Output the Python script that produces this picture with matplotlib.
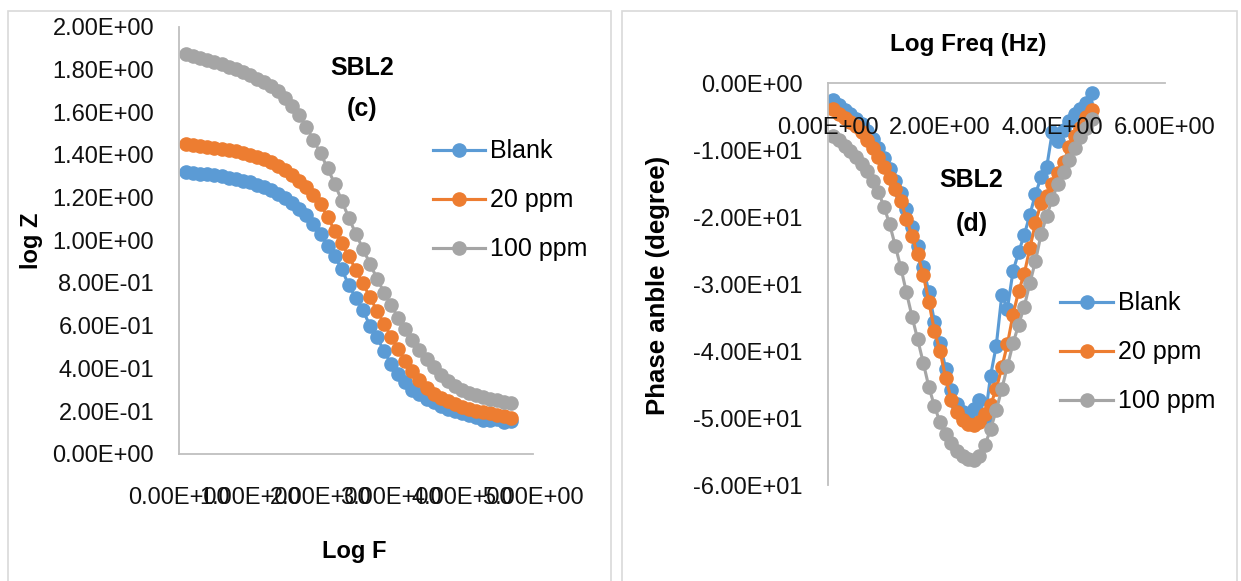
import matplotlib
matplotlib.use('Agg')
import matplotlib.pyplot as plt
from matplotlib.patches import Rectangle
from matplotlib.ticker import FuncFormatter, MultipleLocator

plt.rcParams['font.family'] = ['Liberation Sans', 'DejaVu Sans']

# log of frequency (Hz), shared by both plots
log_f = [0.1, 0.2, 0.3, 0.4, 0.5, 0.6, 0.7, 0.8, 0.9, 1.0,
         1.1, 1.2, 1.3, 1.4, 1.5, 1.6, 1.7, 1.8, 1.9, 2.0,
         2.1, 2.2, 2.3, 2.4, 2.5, 2.6, 2.7, 2.8, 2.9, 3.0,
         3.1, 3.2, 3.3, 3.4, 3.5, 3.6, 3.7, 3.8, 3.9, 4.0,
         4.1, 4.2, 4.3, 4.4, 4.5, 4.6, 4.7]

names = ['Blank', '20 ppm', '100 ppm']
colors = ['#5B9BD5', '#ED7D31', '#A5A5A5']

# Bode modulus, log Z
logz_blank = [1.320, 1.316, 1.312, 1.308, 1.304, 1.299, 1.293, 1.287, 1.279, 1.271,
              1.261, 1.249, 1.234, 1.216, 1.196, 1.173, 1.147, 1.116, 1.078, 1.030,
              0.975, 0.925, 0.865, 0.790, 0.730, 0.672, 0.600, 0.545, 0.480, 0.420,
              0.375, 0.335, 0.300, 0.278, 0.258, 0.242, 0.226, 0.212, 0.200, 0.190,
              0.180, 0.171, 0.160, 0.158, 0.163, 0.150, 0.152]
logz_20 = [1.452, 1.447, 1.442, 1.438, 1.433, 1.428, 1.422, 1.416, 1.409, 1.401,
           1.392, 1.381, 1.367, 1.349, 1.328, 1.304, 1.278, 1.248, 1.212, 1.168,
           1.110, 1.045, 0.985, 0.925, 0.862, 0.798, 0.733, 0.670, 0.608, 0.548,
           0.490, 0.437, 0.388, 0.345, 0.309, 0.282, 0.262, 0.246, 0.232, 0.220,
           0.210, 0.202, 0.196, 0.190, 0.184, 0.178, 0.170]
logz_100 = [1.870, 1.862, 1.853, 1.844, 1.834, 1.824, 1.813, 1.800, 1.786, 1.772,
            1.757, 1.741, 1.722, 1.698, 1.668, 1.630, 1.585, 1.530, 1.470, 1.407,
            1.338, 1.265, 1.186, 1.105, 1.030, 0.960, 0.890, 0.820, 0.755, 0.695,
            0.637, 0.584, 0.535, 0.488, 0.445, 0.405, 0.370, 0.341, 0.318, 0.300,
            0.287, 0.276, 0.266, 0.258, 0.251, 0.245, 0.240]

# Bode phase angle (degree)
phase_blank = [-2.5, -3.2, -3.9, -4.6, -5.3, -6.1, -7.1, -8.3, -9.7, -11.2,
               -12.8, -14.5, -16.4, -18.8, -21.5, -24.3, -27.4, -31.2, -35.6, -38.8,
               -42.6, -45.7, -47.8, -49.0, -49.4, -48.6, -47.3, -50.0, -43.6, -39.2,
               -31.6, -33.6, -28.0, -25.2, -22.6, -19.6, -16.5, -14.0, -12.5, -7.2,
               -8.6, -7.0, -5.6, -4.6, -3.8, -3.0, -1.5]
phase_20 = [-3.8, -4.5, -5.1, -5.7, -6.4, -7.3, -8.4, -9.6, -11.0, -12.5,
            -14.1, -15.7, -17.6, -20.2, -22.8, -25.5, -28.6, -32.6, -37.0, -40.0,
            -44.0, -47.2, -49.0, -50.2, -50.8, -51.0, -50.6, -49.4, -48.0, -45.6,
            -42.4, -38.9, -34.5, -31.0, -28.4, -24.6, -20.8, -17.8, -16.8, -15.0,
            -13.4, -11.8, -9.5, -7.8, -6.6, -5.0, -3.9]
phase_100 = [-7.9, -8.5, -9.3, -10.1, -11.0, -12.0, -13.1, -14.5, -16.2, -18.4,
             -21.0, -24.2, -27.5, -31.2, -34.8, -38.2, -41.7, -45.3, -48.2, -50.6,
             -52.4, -53.7, -54.8, -55.6, -56.1, -56.2, -55.6, -54.0, -51.6, -48.8,
             -45.6, -42.2, -38.8, -36.0, -33.3, -29.8, -26.5, -22.5, -19.8, -17.2,
             -15.0, -13.2, -11.4, -9.6, -8.0, -6.6, -5.3]


def sci(v, pos):
    return f'{v:.2E}'


def style_axes(ax):
    for side in ['top', 'right']:
        ax.spines[side].set_visible(False)
    for side in ['left', 'bottom']:
        ax.spines[side].set_color('#bfbfbf')
        ax.spines[side].set_linewidth(1.3)
    ax.xaxis.set_major_formatter(FuncFormatter(sci))
    ax.yaxis.set_major_formatter(FuncFormatter(sci))
    ax.tick_params(length=0, labelsize=17, colors='#111111')
    ax.tick_params(axis='y', pad=18)
    ax.tick_params(axis='x', pad=24)


legend_kw = dict(bbox_transform=None, frameon=False, fontsize=18, handlelength=2.1,
                 handletextpad=0.2, labelspacing=1.0, borderpad=0, borderaxespad=0)

fig = plt.figure(figsize=(12.41, 5.81), dpi=100)
legend_kw['bbox_transform'] = fig.transFigure

# light frames around the two chart boxes
for x0, x1 in [(8, 611), (622, 1237)]:
    fig.patches.append(Rectangle((x0 / 1241, -0.05), (x1 - x0) / 1241, 1.031,
                                 transform=fig.transFigure, fill=False,
                                 edgecolor='#d9d9d9', lw=1.2))

# (c) log Z vs log F
ax1 = fig.add_axes([0.1443, 0.2188, 0.2849, 0.7353])
for y, name, c in zip([logz_blank, logz_20, logz_100], names, colors):
    ax1.plot(log_f, y, '-o', color=c, lw=2.25, ms=9.5, label=name)
ax1.set_xlim(0, 5)
ax1.set_ylim(0, 2)
ax1.xaxis.set_major_locator(MultipleLocator(1))
ax1.yaxis.set_major_locator(MultipleLocator(0.2))
style_axes(ax1)
ax1.legend(loc='upper left', bbox_to_anchor=(0.3489, 0.7600), **legend_kw)

fig.text(0.0255, 0.5855, 'log Z', rotation=90, ha='center', va='center', fontsize=17, fontweight='bold')
fig.text(0.2853, 0.0516, 'Log F', ha='center', va='center', fontsize=17, fontweight='bold')
fig.text(0.2915, 0.8821, 'SBL2', ha='center', va='center', fontsize=18, fontweight='bold')
fig.text(0.2915, 0.8119, '(c)', ha='center', va='center', fontsize=18, fontweight='bold')

# (d) phase angle vs log F, x axis crossing at 0
ax2 = fig.add_axes([0.6671, 0.1645, 0.2713, 0.692])
for y, name, c in zip([phase_blank, phase_20, phase_100], names, colors):
    ax2.plot(log_f, y, '-o', color=c, lw=2.25, ms=9.5, label=name)
ax2.set_xlim(0, 6)
ax2.set_ylim(-60, 0)
ax2.spines['bottom'].set_position(('data', 0))
ax2.xaxis.set_major_locator(MultipleLocator(2))
ax2.yaxis.set_major_locator(MultipleLocator(10))
ax2.set_axisbelow(False)
style_axes(ax2)
ax2.legend(loc='upper left', bbox_to_anchor=(0.8545, 0.4985), **legend_kw)

fig.text(0.7804, 0.9234, 'Log Freq (Hz)', ha='center', va='center', fontsize=17.5, fontweight='bold')
fig.text(0.5299, 0.5089, 'Phase anble (degree)', rotation=90, ha='center', va='center',
         fontsize=18.5, fontweight='bold')
fig.text(0.7827, 0.6907, 'SBL2', ha='center', va='center', fontsize=18, fontweight='bold')
fig.text(0.7827, 0.6141, '(d)', ha='center', va='center', fontsize=18, fontweight='bold')

fig.savefig('out.png', dpi=100)
